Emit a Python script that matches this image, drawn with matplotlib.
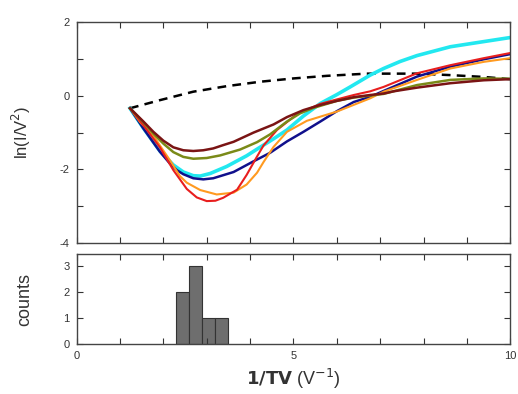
import matplotlib
matplotlib.use("Agg")
import matplotlib.pyplot as plt

plt.rcParams["font.family"] = ["Liberation Sans", "DejaVu Sans"]

# x values: 1/TV (V^-1), y values: ln(I/V^2)
x_dash = [1.23, 1.92, 2.69, 3.46, 4.23, 5.0, 5.77, 6.69, 7.3, 7.85, 8.62, 9.39, 10.0]
y_dash = [-0.34, -0.12, 0.11, 0.26, 0.38, 0.47, 0.54, 0.60, 0.60, 0.60, 0.56, 0.51, 0.45]

x_maroon = [1.23, 1.54, 1.77, 2.0, 2.23, 2.46, 2.69, 2.92, 3.15, 3.38, 3.62, 4.08, 4.54,
            4.85, 5.23, 5.62, 6.0, 6.39, 6.77, 7.08, 7.31, 7.85, 8.62, 9.39, 10.0]
y_maroon = [-0.34, -0.70, -0.98, -1.22, -1.40, -1.48, -1.50, -1.48, -1.43, -1.34, -1.25, -1.0, -0.78,
            -0.58, -0.39, -0.25, -0.14, -0.04, 0.02, 0.06, 0.12, 0.22, 0.34, 0.42, 0.45]

x_olive = [1.23, 1.54, 1.77, 2.0, 2.23, 2.46, 2.69, 3.0, 3.31, 3.77, 4.16, 4.46, 4.85,
           5.15, 5.46, 6.0, 6.39, 7.08, 7.85, 8.62, 9.39, 10.0]
y_olive = [-0.34, -0.72, -1.03, -1.30, -1.53, -1.66, -1.71, -1.69, -1.62, -1.46, -1.26, -1.05, -0.70,
           -0.48, -0.33, -0.14, -0.05, 0.05, 0.29, 0.43, 0.47, 0.46]

x_cyan = [1.23, 1.54, 1.92, 2.23, 2.46, 2.69, 2.85, 3.08, 3.46, 3.92, 4.16, 4.54, 4.85,
          5.23, 5.62, 6.0, 6.31, 6.77, 7.08, 7.46, 7.85, 8.62, 9.39, 10.0]
y_cyan = [-0.34, -0.88, -1.50, -1.88, -2.07, -2.17, -2.18, -2.11, -1.92, -1.63, -1.45, -1.17, -0.93,
          -0.55, -0.21, 0.03, 0.24, 0.56, 0.74, 0.93, 1.09, 1.33, 1.47, 1.58]

x_blue = [1.23, 1.54, 1.92, 2.15, 2.31, 2.46, 2.69, 2.92, 3.15, 3.62, 4.08, 4.46, 4.85,
          5.23, 5.62, 6.0, 6.39, 6.77, 7.08, 7.85, 8.62, 9.39, 10.0]
y_blue = [-0.34, -0.89, -1.52, -1.84, -2.02, -2.13, -2.24, -2.27, -2.24, -2.07, -1.78, -1.55, -1.24,
          -0.98, -0.70, -0.42, -0.17, -0.03, 0.13, 0.52, 0.79, 0.99, 1.13]

x_red = [1.23, 1.54, 1.92, 2.23, 2.54, 2.77, 3.0, 3.2, 3.38, 3.70, 3.92, 4.16, 4.31, 4.62,
         5.08, 5.62, 6.0, 6.39, 6.77, 7.08, 7.85, 8.62, 9.39, 10.0]
y_red = [-0.34, -0.80, -1.40, -2.02, -2.53, -2.76, -2.86, -2.85, -2.77, -2.55, -2.15, -1.65, -1.35, -0.93,
         -0.50, -0.22, -0.10, 0.02, 0.12, 0.24, 0.61, 0.83, 1.02, 1.16]

x_orange = [1.23, 1.46, 1.77, 1.92, 2.15, 2.38, 2.54, 2.85, 3.23, 3.62, 3.92, 4.16, 4.31, 4.54,
            4.85, 5.31, 6.0, 6.77, 7.08, 7.85, 8.62, 9.39, 10.0]
y_orange = [-0.34, -0.71, -1.08, -1.35, -1.75, -2.18, -2.36, -2.56, -2.68, -2.63, -2.41, -2.09, -1.80, -1.39,
            -0.98, -0.68, -0.43, -0.07, 0.11, 0.43, 0.74, 0.92, 1.02]

# histogram of minimum positions
bin_centers = [2.44, 2.74, 3.04, 3.34]
bin_counts = [2, 3, 1, 1]
bin_width = 0.3

fig = plt.figure(figsize=(5.18, 3.94), dpi=100)
ax = fig.add_axes([0.148, 0.383, 0.837, 0.561])
axh = fig.add_axes([0.148, 0.127, 0.837, 0.228])

ax.plot(x_dash, y_dash, color="black", linestyle=(0, (3.5, 2.5)), linewidth=1.8)
ax.plot(x_cyan, y_cyan, color="#22e8f0", linewidth=2.6)
ax.plot(x_blue, y_blue, color="#10108c", linewidth=1.8)
ax.plot(x_orange, y_orange, color="#ff9a20", linewidth=1.5)
ax.plot(x_red, y_red, color="#e81e1e", linewidth=1.5)
ax.plot(x_olive, y_olive, color="#7a8a18", linewidth=1.8)
ax.plot(x_maroon, y_maroon, color="#7a1414", linewidth=1.8)

ax.set_xlim(0, 10)
ax.set_ylim(-4, 2)
ax.set_yticks(range(-4, 3))
ax.set_yticklabels(["-4", "", "-2", "", "0", "", "2"])
ax.set_xticks(range(0, 11))
ax.set_xticklabels([])
ax.set_ylabel("ln(I/V$^2$)", fontsize=12, color="#333333")

axh.bar(bin_centers, bin_counts, width=bin_width, color="#6e6e6e",
        edgecolor="#333333", linewidth=0.8)
axh.set_xlim(0, 10)
axh.set_ylim(0, 3.45)
axh.set_yticks([0, 1, 2, 3])
axh.set_xticks(range(0, 11))
axh.set_xticklabels(["0", "", "", "", "", "5", "", "", "", "", "10"])
axh.set_ylabel("counts", fontsize=13, color="#333333")
axh.set_xlabel(r"$\bf{1/TV}$ (V$^{-1}$)", fontsize=13, color="#333333")

for a in (ax, axh):
    a.tick_params(direction="in", top=True, right=True, length=4,
                  labelsize=8, colors="#333333", pad=5)
    for s in a.spines.values():
        s.set_color("#444444")
        s.set_linewidth(1.0)

ax.yaxis.set_label_coords(-0.1, 0.5)
axh.yaxis.set_label_coords(-0.1, 0.5)

fig.savefig("out.png", dpi=100)
